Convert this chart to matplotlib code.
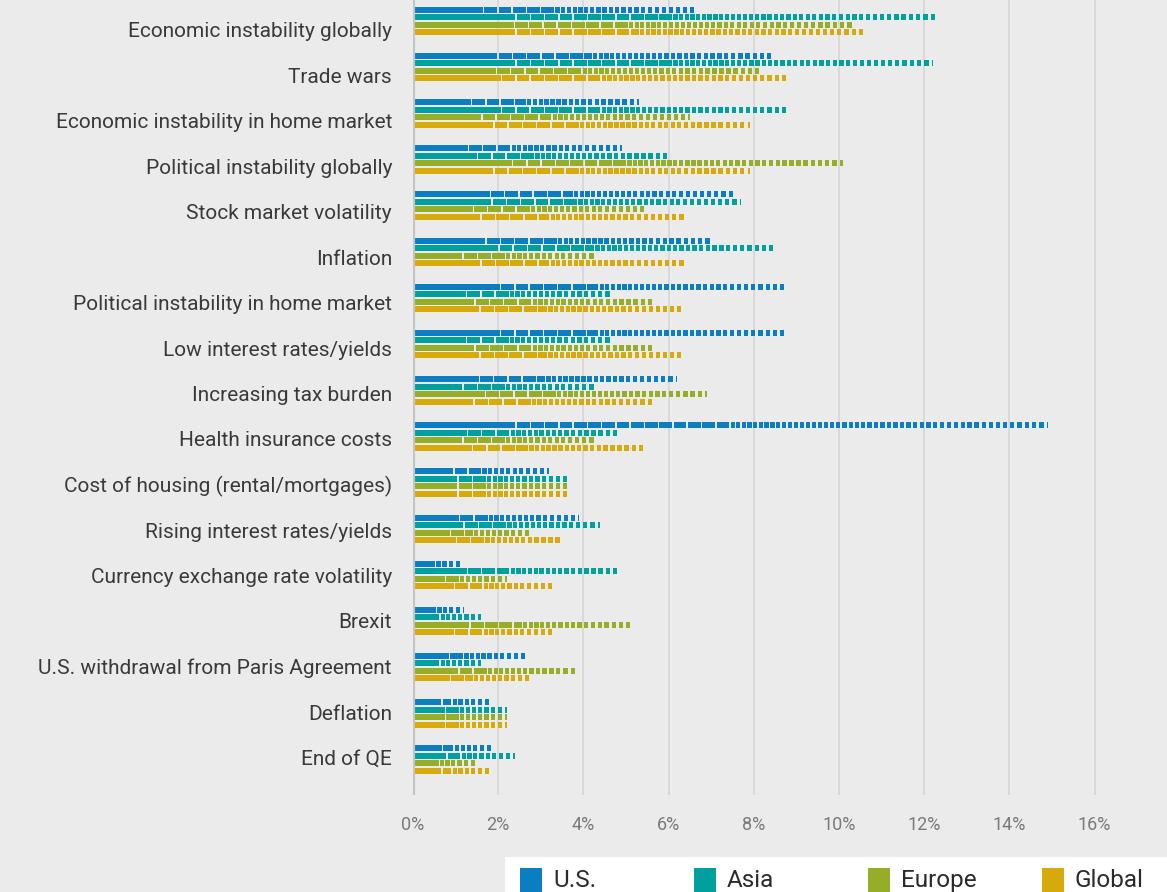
import numpy as np
import matplotlib
matplotlib.use("Agg")
import matplotlib.pyplot as plt
from matplotlib.patches import Rectangle
from matplotlib.transforms import blended_transform_factory, ScaledTranslation

categories = [
    "Economic instability globally",
    "Trade wars",
    "Economic instability in home market",
    "Political instability globally",
    "Stock market volatility",
    "Inflation",
    "Political instability in home market",
    "Low interest rates/yields",
    "Increasing tax burden",
    "Health insurance costs",
    "Cost of housing (rental/mortgages)",
    "Rising interest rates/yields",
    "Currency exchange rate volatility",
    "Brexit",
    "U.S. withdrawal from Paris Agreement",
    "Deflation",
    "End of QE",
]

us     = [6.7, 8.4, 5.3, 4.9, 7.5, 7.0, 8.7, 8.7, 6.2, 14.9, 3.2, 3.9, 1.1, 1.2, 2.7, 1.8, 1.9]
asia   = [12.3, 12.2, 8.8, 6.0, 7.7, 8.5, 4.7, 4.7, 4.3, 4.8, 3.7, 4.4, 4.8, 1.6, 1.6, 2.2, 2.4]
europe = [10.3, 8.2, 6.5, 10.1, 5.5, 4.3, 5.7, 5.7, 6.9, 4.3, 3.7, 2.8, 2.2, 5.1, 3.8, 2.2, 1.5]
glob   = [10.6, 8.8, 7.9, 7.9, 6.4, 6.4, 6.3, 6.3, 5.6, 5.4, 3.7, 3.5, 3.3, 3.3, 2.8, 2.2, 1.8]

series_names = ["U.S.", "Asia", "Europe", "Global"]
series_values = [us, asia, europe, glob]
colors = ["#0b7ec2", "#00a09e", "#96ad28", "#d6aa0b"]

x_ticks = [0, 2, 4, 6, 8, 10, 12, 14, 16]
x_ticklabels = ["0%", "2%", "4%", "6%", "8%", "10%", "12%", "14%", "16%"]

BG = "#ebebeb"
FONT = "Roboto"


def segments(v):
    """Split a bar of length v into a solid head and progressively finer pieces."""
    lefts, widths = [], []
    first = min(0.2 * v + 0.3, 2.4, v)
    lefts.append(0.0)
    widths.append(first)
    pos = first
    mid_end = 0.5 * v
    # medium pieces
    while pos + 0.2 < mid_end:
        start = pos + 0.035
        w = min(0.30, mid_end - start)
        lefts.append(start)
        widths.append(w)
        pos = start + w
    # fine pieces, gaps widening toward the tip
    while pos < v - 1e-6:
        frac = (pos - mid_end) / max(v - mid_end, 1e-6)
        gap = 0.03 + 0.045 * max(frac, 0)
        start = pos + gap
        if start >= v - 0.02:
            break
        w = min(0.10, v - start)
        lefts.append(start)
        widths.append(w)
        pos = start + w
    return lefts, widths


fig = plt.figure(figsize=(11.67, 8.92), dpi=100, facecolor=BG)
W, H = 1167, 892
ax = fig.add_axes([413 / W, 1 - 795 / H, (W - 413) / W, 795 / H])
ax.set_facecolor(BG)

n = len(categories)
pitch_px = 46.16
top_px = 21.0
ax.set_ylim((795 - top_px) / pitch_px, -top_px / pitch_px)
ax.set_xlim(0, (W - 413) / 42.6)

bar_h = 6.0 / pitch_px
step = 7.5 / pitch_px
offsets = [-1.5 * step, -0.5 * step, 0.5 * step, 1.5 * step]

for vals, col, off in zip(series_values, colors, offsets):
    for i, v in enumerate(vals):
        l, w = segments(v)
        ax.barh([i + off] * len(l), w, left=l, height=bar_h, color=col,
                edgecolor="none", zorder=3)

# gridlines and base line
for xt in x_ticks[1:]:
    ax.axvline(xt, color="#d9d9d9", lw=1.4, zorder=1)
ax.axvline(0, color="#c4c4c4", lw=3, zorder=4)

for s in ax.spines.values():
    s.set_visible(False)
ax.set_yticks([])
ax.set_xticks(x_ticks)
ax.set_xticklabels(x_ticklabels)
ax.tick_params(axis="x", length=0, pad=15, labelsize=13, labelcolor="#7a7a7a")
for lbl in ax.get_xticklabels():
    lbl.set_fontfamily(FONT)

# category labels
trans = blended_transform_factory(ax.transAxes, ax.transData)
for i, name in enumerate(categories):
    dy = (10.5 - 0.66 * i) / 100.0
    t = trans + ScaledTranslation(-21 / 100.0, -dy, fig.dpi_scale_trans)
    ax.text(0, i, name, transform=t, ha="right", va="center",
            fontsize=15, color="#3a3a3a", family=FONT)

# legend strip
lax = fig.add_axes([505 / W, 0, (W - 505) / W, 35 / H])
lax.set_facecolor("white")
lax.set_xlim(0, W - 505)
lax.set_ylim(0, 35)
lax.set_xticks([])
lax.set_yticks([])
for s in lax.spines.values():
    s.set_visible(False)
for k, (name, col) in enumerate(zip(series_names, colors)):
    x0 = 15 + 174 * k
    lax.add_patch(Rectangle((x0, 0), 22, 24, facecolor=col, edgecolor="none"))
    lax.text(x0 + 33, 5, name, ha="left", va="baseline", fontsize=17.5,
             color="#2a2a2a", family=FONT)

fig.savefig("out.png", dpi=100, facecolor=BG)
